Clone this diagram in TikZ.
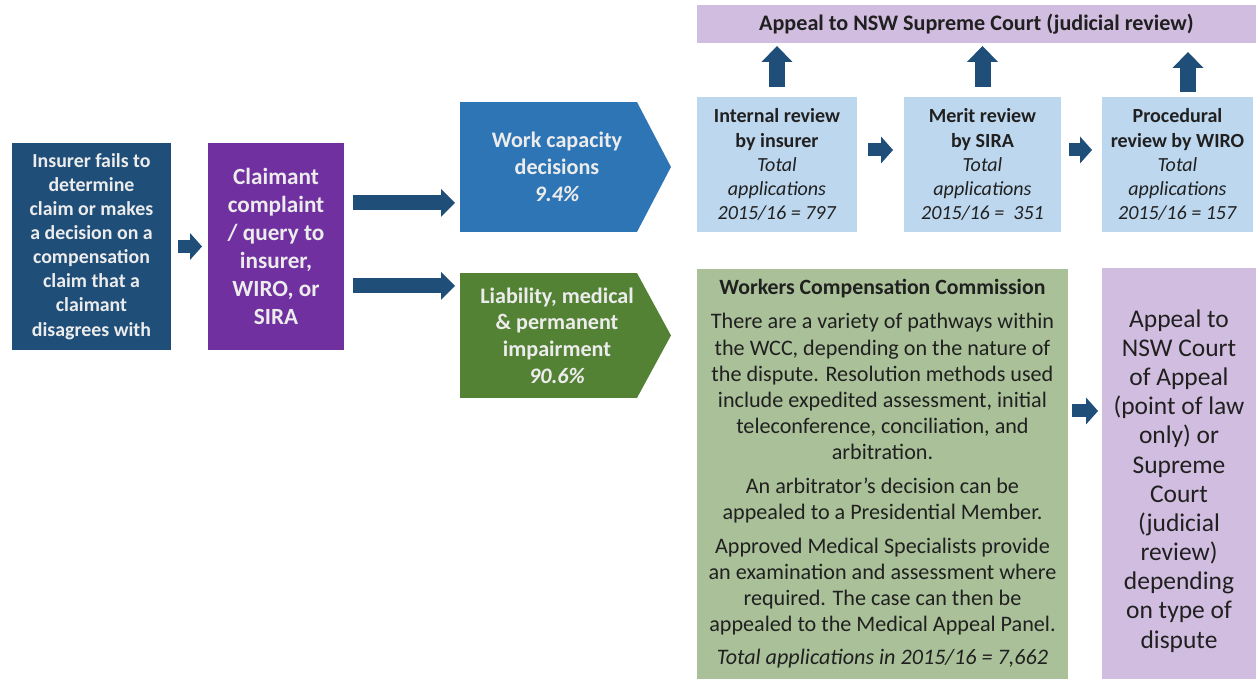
\documentclass[tikz,border=0pt]{standalone}
\usepackage{fontspec}
\setmainfont{Carlito}
\usetikzlibrary{arrows.meta,backgrounds}

\definecolor{navy}{RGB}{31,78,121}
\definecolor{plum}{RGB}{112,48,160}
\definecolor{wcblue}{RGB}{46,117,182}
\definecolor{lmgreen}{RGB}{84,130,53}
\definecolor{lilac}{RGB}{209,189,224}
\definecolor{paleblue}{RGB}{189,215,238}
\definecolor{sage}{RGB}{169,192,152}
\definecolor{offwhite}{RGB}{236,236,236}
\definecolor{ink}{RGB}{32,32,32}

\tikzset{
  box/.style={inner sep=0pt, outer sep=0pt, anchor=north west, align=center},
  darkbox/.style={box, text=offwhite},
  lightbox/.style={box, text=ink},
  bigarrow/.style={navy, line width=0.3cm, -{Triangle[width=0.56cm,length=0.28cm,line width=0pt]}},
  smallarrow/.style={navy, line width=0.26cm, -{Triangle[width=0.54cm,length=0.24cm,line width=0pt]}},
  uparrow/.style={navy, line width=0.32cm, -{Triangle[width=0.62cm,length=0.32cm,line width=0pt]}},
}

\begin{document}
\begin{tikzpicture}[x=0.02cm, y=-0.02cm]
  \useasboundingbox (0,0) rectangle (1256,679);

  % where a dispute starts
  \node[darkbox, fill=navy, minimum width=3.18cm, minimum height=4.14cm,
        font=\bfseries\fontsize{11.3}{13.7}\selectfont] (insurer) at (12,143)
    {Insurer fails to\\determine\\claim or makes\\a decision on a\\compensation\\claim that a\\claimant\\disagrees with};
  \node[darkbox, fill=plum, minimum width=2.72cm, minimum height=4.14cm,
        font=\bfseries\fontsize{13.2}{15.9}\selectfont] (claimant) at (208,143)
    {Claimant\\complaint\\/ query to\\insurer,\\WIRO, or\\SIRA};

  % the two kinds of dispute
  \node[darkbox, minimum width=3.88cm, minimum height=2.6cm,
        font=\bfseries\fontsize{12.6}{15.4}\selectfont] (wcd) at (460,102)
    {Work capacity\\decisions\\\textit{9.4\%}};
  \node[darkbox, minimum width=3.88cm, minimum height=2.5cm,
        font=\bfseries\fontsize{12.6}{15.2}\selectfont] (lmp) at (460,273)
    {Liability, medical\\\& permanent\\impairment\\\textit{90.6\%}};
  \begin{scope}[on background layer]
    \foreach \n/\c in {wcd/wcblue, lmp/lmgreen}
      \fill[\c] (\n.north west) -- ([xshift=-0.34cm]\n.north east) -- ([xshift=0.34cm]\n.east)
        -- ([xshift=-0.34cm]\n.south east) -- (\n.south west) -- cycle;
  \end{scope}

  % work capacity reviews
  \node[lightbox, fill=lilac, minimum width=11.18cm, minimum height=0.76cm,
        font=\bfseries\fontsize{12.6}{15}\selectfont] (court) at (697,5)
    {Appeal to NSW Supreme Court (judicial review)};
  \node[lightbox, fill=paleblue, minimum width=3.2cm, minimum height=2.7cm,
        font=\fontsize{11.4}{13.7}\selectfont] (internal) at (697,97)
    {\textbf{Internal review}\\\textbf{by insurer}\\\textit{Total}\\\textit{applications}\\\textit{2015/16 = 797}};
  \node[lightbox, fill=paleblue, minimum width=3.14cm, minimum height=2.7cm,
        font=\fontsize{11.4}{13.7}\selectfont] (merit) at (904,97)
    {\textbf{Merit review}\\\textbf{by SIRA}\\\textit{Total}\\\textit{applications}\\\textit{2015/16 = \ 351}};
  \node[lightbox, fill=paleblue, minimum width=3.02cm, minimum height=2.7cm,
        font=\fontsize{11.4}{13.7}\selectfont] (procedural) at (1102,97)
    {\textbf{Procedural}\\\textbf{review by WIRO}\\\textit{Total}\\\textit{applications}\\\textit{2015/16 = 157}};

  % commission and further appeal
  \node[lightbox, fill=sage, minimum width=7.42cm, minimum height=8.2cm,
        font=\fontsize{12.6}{14.9}\selectfont] (wcc) at (697,269)
    {{\bfseries\fontsize{12.4}{14.9}\selectfont Workers Compensation Commission}\\[4.5pt]
     There are a variety of pathways within\\the WCC, depending on the nature of\\
     the dispute. Resolution methods used\\include expedited assessment, initial\\
     teleconference, conciliation, and\\arbitration.\\[4.5pt]
     An arbitrator’s decision can be\\appealed to a Presidential Member.\\[4pt]
     Approved Medical Specialists provide\\an examination and assessment where\\
     required. The case can then be\\appealed to the Medical Appeal Panel.\\[4pt]
     \textit{Total applications in 2015/16 = 7,662}};
  \node[lightbox, fill=lilac, minimum width=3.08cm, minimum height=8.22cm,
        font=\fontsize{14.5}{16.6}\selectfont] (appeal) at (1102,268)
    {\rule{0pt}{18.5pt}Appeal to\\NSW Court\\of Appeal\\(point of law\\only) or\\Supreme\\Court\\(judicial\\review)\\depending\\on type of\\dispute};

  % block arrows
  \draw[smallarrow, shorten <=0.14cm, shorten >=0.12cm] (insurer) -- (claimant);
  \draw[bigarrow, shorten <=0.18cm, shorten >=0.1cm]
    ([yshift=0.87cm]claimant.east) -- ([yshift=0.87cm]claimant.east -| wcd.west);
  \draw[bigarrow, shorten <=0.18cm, shorten >=0.1cm]
    ([yshift=-0.79cm]claimant.east) -- ([yshift=-0.79cm]claimant.east -| lmp.west);
  \draw[smallarrow, shorten <=0.22cm, shorten >=0.22cm]
    ([yshift=0.29cm]internal.east) -- ([yshift=0.29cm]internal.east -| merit.west);
  \draw[smallarrow, shorten <=0.16cm, shorten >=0.2cm]
    ([yshift=0.29cm]merit.east) -- ([yshift=0.29cm]merit.east -| procedural.west);
  \foreach \n in {internal, merit}
    \draw[uparrow, shorten <=0.2cm, shorten >=0.06cm] (\n.north) -- (\n.north |- court.south);
  \draw[uparrow, shorten <=0.1cm, shorten >=0.18cm]
    ([xshift=0.21cm]procedural.north) -- ([xshift=0.21cm]procedural.north |- court.south);
  \draw[smallarrow, shorten <=0.08cm, shorten >=0.08cm]
    ([yshift=1.26cm]wcc.east) -- ([yshift=1.26cm]wcc.east -| appeal.west);
\end{tikzpicture}
\end{document}
